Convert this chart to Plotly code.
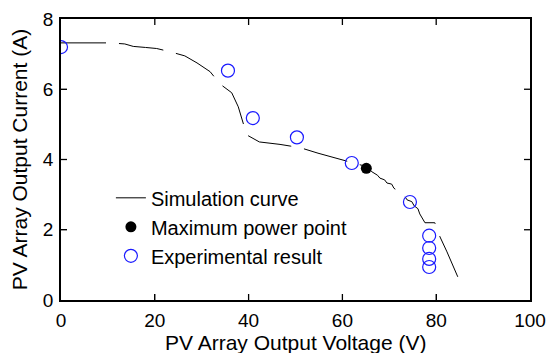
import plotly.graph_objects as go

# Simulation curve (V, A)
sim_v = [0, 5, 10.4, 13.6, 15.4, 18.0, 20.4, 23.2, 26.4, 29.0, 31.8, 33.9, 35.5, 36.4, 37.8, 38.5, 39.6,
         42.3, 44.6, 46.7, 49.0, 51.4, 54.8, 56.5, 58.5, 60.5, 62.3, 63.5, 65.1, 66.3, 67.5, 68.0, 69.0,
         69.5, 70.5, 71.0, 71.9, 72.3, 73.3, 73.8, 74.8, 75.3, 76.1, 76.5, 77.1, 77.6, 79.7, 80.8,
         82.3, 84.6]
sim_i = [7.32, 7.32, 7.32, 7.29, 7.22, 7.19, 7.16, 7.07, 6.95, 6.75, 6.5, 6.15, 6.0, 5.9, 5.5, 5.2, 4.7,
         4.5, 4.47, 4.43, 4.38, 4.32, 4.18, 4.12, 4.05, 3.98, 3.9, 3.86, 3.8, 3.65, 3.55, 3.47, 3.42,
         3.33, 3.3, 3.18, 3.1, 3.0, 2.95, 2.85, 2.8, 2.68, 2.6, 2.45, 2.3, 2.2, 2.2, 1.8,
         1.37, 0.66]

# Maximum power point
mpp_v = [65.1]
mpp_i = [3.75]

# Experimental results
exp_v = [0.0, 35.6, 40.9, 50.3, 62.0, 74.4, 78.5, 78.5, 78.5, 78.5]
exp_i = [7.2, 6.53, 5.18, 4.63, 3.9, 2.79, 1.83, 1.48, 1.17, 0.94]

x_ticks = [0, 20, 40, 60, 80, 100]
y_ticks = [0, 2, 4, 6, 8]
x_range = [0, 100]
y_range = [0, 8]

x_title = "PV Array Output Voltage (V)"
y_title = "PV Array Output Current (A)"

font = "Liberation Sans, Arial, sans-serif"
TICK_LEN = 6

fig = go.Figure()

fig.add_trace(go.Scatter(x=sim_v, y=sim_i, mode="lines", name="Simulation curve",
                         line=dict(color="black", width=1, dash="45px,13px")))
fig.add_trace(go.Scatter(x=mpp_v, y=mpp_i, mode="markers", name="Maximum power point",
                         marker=dict(color="black", size=11, symbol="circle")))
fig.add_trace(go.Scatter(x=exp_v, y=exp_i, mode="markers", name="Experimental result",
                         marker=dict(color="#1a1aff", size=13, symbol="circle-open",
                                     line=dict(color="#1a1aff", width=1.2))))

# inside tick marks on all four sides, positioned from the tick arrays
tick_line = dict(color="black", width=1.3)
for t in x_ticks[1:-1]:
    fig.add_shape(type="line", xref="x", yref="paper", x0=t, x1=t,
                  ysizemode="pixel", yanchor=0, y0=0, y1=TICK_LEN, line=tick_line, layer="above")
    fig.add_shape(type="line", xref="x", yref="paper", x0=t, x1=t,
                  ysizemode="pixel", yanchor=1, y0=0, y1=-TICK_LEN, line=tick_line, layer="above")
for t in y_ticks[1:-1]:
    fig.add_shape(type="line", xref="paper", yref="y", y0=t, y1=t,
                  xsizemode="pixel", xanchor=0, x0=0, x1=TICK_LEN, line=tick_line, layer="above")
    fig.add_shape(type="line", xref="paper", yref="y", y0=t, y1=t,
                  xsizemode="pixel", xanchor=1, x0=0, x1=-TICK_LEN, line=tick_line, layer="above")

axis_common = dict(showgrid=False, zeroline=False, showline=True, linecolor="black", linewidth=1.5,
                   mirror=True, ticks="inside", ticklen=TICK_LEN, tickwidth=1.3, tickcolor="black",
                   tickfont=dict(family=font, size=19, color="black"), automargin=False)

fig.update_xaxes(range=x_range, tickvals=x_ticks, ticktext=[str(v) for v in x_ticks],
                 ticklabelstandoff=2, **axis_common)
fig.update_yaxes(range=y_range, tickvals=y_ticks, ticktext=[str(v) for v in y_ticks],
                 ticklabelstandoff=2,
                 title=dict(text=y_title, font=dict(family=font, size=21, color="black"),
                            standoff=10),
                 **axis_common)

fig.add_annotation(text=x_title, xref="paper", yref="paper", x=0.5, y=-0.153,
                   xanchor="center", yanchor="middle", showarrow=False,
                   font=dict(family=font, size=21, color="black"))

fig.update_layout(
    width=548, height=353,
    margin=dict(l=61, r=18, t=19, b=53),
    paper_bgcolor="white", plot_bgcolor="white",
    font=dict(family=font, size=20, color="black"),
    showlegend=True,
    legend=dict(x=0.1064, y=0.433, xanchor="left", yanchor="top", bgcolor="rgba(0,0,0,0)",
                borderwidth=0, font=dict(family=font, size=20, color="black")),
)

fig.write_html("out.html")
